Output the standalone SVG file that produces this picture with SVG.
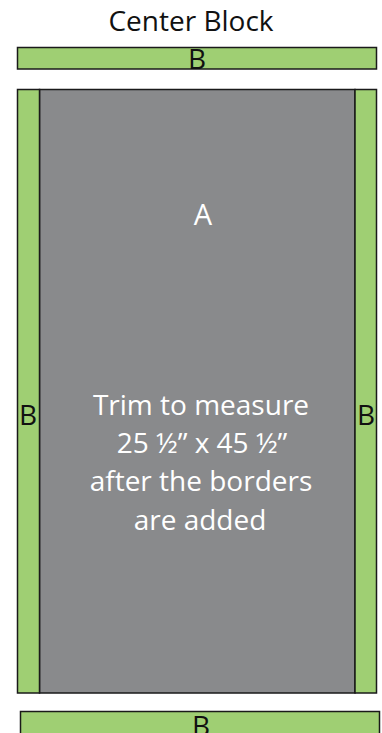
<svg xmlns="http://www.w3.org/2000/svg" width="382" height="733" viewBox="0 0 382 733">
<style>
.g{fill:#9fcf73;stroke:#1a1a1a;stroke-width:1.5}
.c{fill:#898a8c;stroke:#1a1a1a;stroke-width:1.5}
.t{font-family:"Open Sans",sans-serif;text-anchor:middle}
.k{fill:#111}
.w{fill:#fff}
</style>
<rect width="382" height="733" fill="#fff"/>
<text class="t k" x="191" y="31" font-size="28">Center Block</text>
<g id="top-border">
<rect class="g" x="17.5" y="47.5" width="359" height="21.5"/>
<text class="t k" x="197" y="69" font-size="28">B</text>
</g>
<g id="center">
<rect class="c" x="39.5" y="89.5" width="315.5" height="603.5"/>
<text class="t w" x="203" y="225" font-size="29">A</text>
<text class="t w" font-size="28"><tspan x="201" y="415">Trim to measure</tspan><tspan x="202" y="453">25 ½” x 45 ½”</tspan><tspan x="201" y="491">after the borders</tspan><tspan x="200" y="530">are added</tspan></text>
</g>
<g id="left-border">
<rect class="g" x="17.5" y="89.5" width="22" height="603.5"/>
<text class="t k" x="28" y="425" font-size="28">B</text>
</g>
<g id="right-border">
<rect class="g" x="355" y="89.5" width="21.5" height="603.5"/>
<text class="t k" x="366" y="425" font-size="28">B</text>
</g>
<g id="bottom-border">
<rect class="g" x="20.5" y="711.5" width="359" height="25"/>
<text class="t k" x="201" y="736" font-size="28">B</text>
</g>
</svg>
